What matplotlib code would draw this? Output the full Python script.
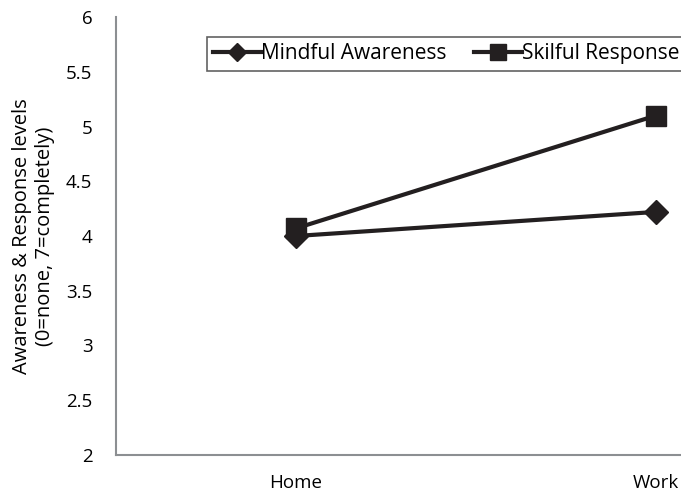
import matplotlib
matplotlib.use("Agg")
import matplotlib.pyplot as plt

plt.rcParams["font.family"] = ["Open Sans", "DejaVu Sans"]

places = ["Home", "Work"]
mindful = [4.0, 4.22]
skilful = [4.07, 5.1]
yticks = [2, 2.5, 3, 3.5, 4, 4.5, 5, 5.5, 6]

INK = "#231f20"
SPINE = "#8c8f92"

fig = plt.figure(figsize=(6.81, 4.95), dpi=100)
# plot area runs past the right edge of the figure
ax = fig.add_axes([116 / 681, 1 - 455 / 495, 720 / 681, (455 - 17) / 495])

x = range(len(places))
ax.plot(x, mindful, color=INK, lw=3, marker="D", ms=12, label="Mindful Awareness", clip_on=False)
ax.plot(x, skilful, color=INK, lw=3, marker="s", ms=15, label="Skilful Response", clip_on=False)

ax.set_xlim(-0.5, 1.5)
ax.set_ylim(2, 6)
ax.set_xticks(list(x))
ax.set_xticklabels(places)
ax.set_yticks(yticks)
ax.set_yticklabels([f"{v:g}" for v in yticks])
ax.tick_params(axis="both", length=0, labelsize=13.5, colors="black")
ax.tick_params(axis="y", pad=17)
ax.tick_params(axis="x", pad=14)

for side in ("top", "right"):
    ax.spines[side].set_visible(False)
for side in ("left", "bottom"):
    ax.spines[side].set_color(SPINE)
    ax.spines[side].set_linewidth(1.5)

ax.set_ylabel("Awareness & Response levels\n(0=none, 7=completely)", fontsize=14.5, labelpad=8,
              linespacing=1.2)

leg = fig.legend(loc="upper left", bbox_to_anchor=(207 / 681, 1 - 37 / 495), ncol=2,
                 fontsize=15, frameon=True, fancybox=False, handlelength=2.3,
                 handletextpad=0.0, columnspacing=1.3, borderpad=0.3, borderaxespad=0,
                 markerscale=0.8)
leg.get_frame().set_edgecolor("#3a3a3a")
leg.get_frame().set_linewidth(1.2)

fig.savefig("out.png", dpi=100)
